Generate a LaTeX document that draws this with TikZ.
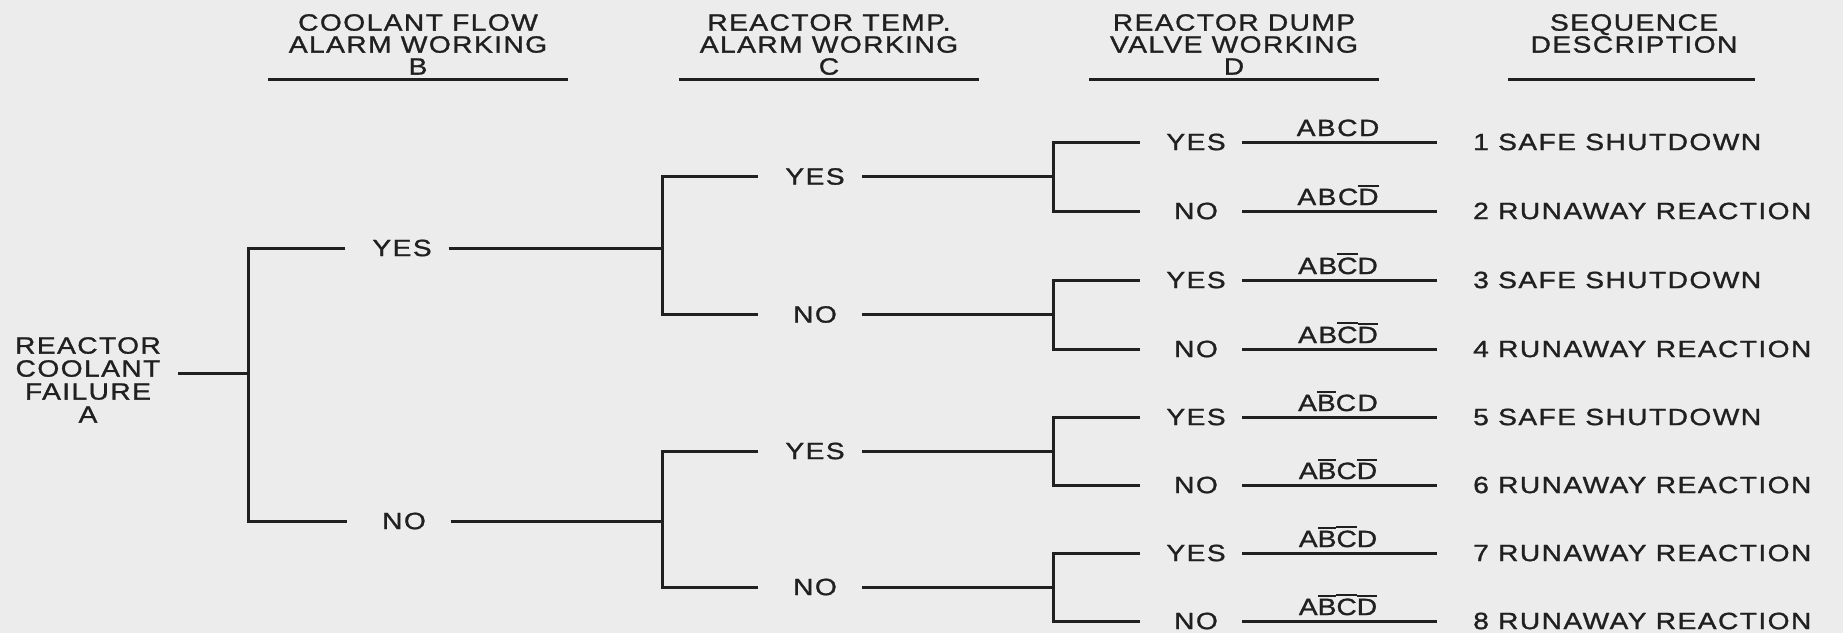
\documentclass[tikz,border=0pt]{standalone}
\usepackage{fontspec}
\usetikzlibrary{calc}
\newfontfamily\wf[FakeStretch=1.2,LetterSpace=6,FakeBold=1.2]{Liberation Sans}
\definecolor{ink}{RGB}{32,32,32}
\definecolor{bg}{RGB}{236,236,236}
\newcommand\tf{\wf\fontsize{23.5}{22}\selectfont}
\newcommand\rf{\wf\fontsize{23.5}{23}\selectfont}
\newcommand\ob[1]{\vbox{\hrule height 2pt\kern 2.2pt\hbox{#1}}}
\newcommand\lb[1]{\hspace*{10pt}#1}
\tikzset{
  ln/.style={draw=ink, line width=3pt},
  tx/.style={font=\tf, text=ink, inner sep=0pt},
  gB/.style={tx, minimum width=103pt},
  gC/.style={tx, minimum width=104pt},
  gD/.style={tx, minimum width=102pt},
  hd/.style={tx, align=center, anchor=north},
  pr/.style={tx, anchor=base},
  sq/.style={tx, anchor=west},
}
\begin{document}
\begin{tikzpicture}[x=1pt,y=-1pt]
\fill[bg] (0,0) rectangle (1843,633);
\useasboundingbox (0,0) rectangle (1843,633);

% headers
\node[hd] (hB) at (418,14) {COOLANT FLOW\\ALARM WORKING\\B};
\node[hd] (hC) at (829,14) {REACTOR TEMP.\\ALARM WORKING\\C};
\node[hd] (hD) at (1234,14) {REACTOR DUMP\\VALVE WORKING\\D};
\node[hd] (hS) at (1634,14) {SEQUENCE\\DESCRIPTION};
\draw[ln] (268,79) -- (568,79);
\draw[ln] (679,79) -- (979,79);
\draw[ln] (1089,79) -- (1379,79);
\draw[ln] (1508,79) -- (1755,79);

% root
\node[tx, align=center, anchor=north, font=\rf] (root) at (88,337) {REACTOR\\COOLANT\\FAILURE\\A};

% junctions
\coordinate (jA) at (248,373);
\coordinate (jc1) at (662,248);
\coordinate (jc2) at (662,521);
\coordinate (jd1) at (1053,176.5);
\coordinate (jd2) at (1053,314.5);
\coordinate (jd3) at (1053,451);
\coordinate (jd4) at (1053,587);

% level B
\node[gB] (bY) at (397,248) {\lb{YES}};
\node[gB] (bN) at (399,521) {\lb{NO}};
% level C
\node[gC] (cY1) at (810,176.5) {\lb{YES}};
\node[gC] (cN1) at (810,314.5) {\lb{NO}};
\node[gC] (cY2) at (810,451) {\lb{YES}};
\node[gC] (cN2) at (810,587) {\lb{NO}};
% level D
\node[gD] (dY1) at (1191,142) {\lb{YES}};
\node[gD] (dN1) at (1191,211) {\lb{NO}};
\node[gD] (dY2) at (1191,280) {\lb{YES}};
\node[gD] (dN2) at (1191,349) {\lb{NO}};
\node[gD] (dY3) at (1191,417) {\lb{YES}};
\node[gD] (dN3) at (1191,485) {\lb{NO}};
\node[gD] (dY4) at (1191,553) {\lb{YES}};
\node[gD] (dN4) at (1191,621) {\lb{NO}};

% sequence descriptions
\node[sq] (s1) at (1473,142) {1 SAFE SHUTDOWN};
\node[sq] (s2) at (1473,211) {2 RUNAWAY REACTION};
\node[sq] (s3) at (1473,280) {3 SAFE SHUTDOWN};
\node[sq] (s4) at (1473,349) {4 RUNAWAY REACTION};
\node[sq] (s5) at (1473,417) {5 SAFE SHUTDOWN};
\node[sq] (s6) at (1473,485) {6 RUNAWAY REACTION};
\node[sq] (s7) at (1473,553) {7 RUNAWAY REACTION};
\node[sq] (s8) at (1473,621) {8 RUNAWAY REACTION};

% boolean labels
\node[pr] (p1) at (1338,136) {ABCD};
\node[pr] (p2) at (1338,205) {ABC\ob{D}};
\node[pr] (p3) at (1338,274) {AB\ob{C}D};
\node[pr] (p4) at (1338,343) {AB\ob{C}\ob{D}};
\node[pr] (p5) at (1338,411) {A\ob{B}CD};
\node[pr] (p6) at (1338,479) {A\ob{B}C\ob{D}};
\node[pr] (p7) at (1338,547) {A\ob{B}\ob{C}D};
\node[pr] (p8) at (1338,615) {A\ob{B}\ob{C}\ob{D}};

% connectors
\draw[ln] ($(root.east|-jA)+(17,0)$) -- (jA);
\draw[ln] (bY.west) -- (bY.west -| jA) -- (bN.west -| jA) -- (bN.west);
\draw[ln] (bY.east) -- (jc1);
\draw[ln] (bN.east) -- (jc2);
\draw[ln] (cY1.west) -- (cY1.west -| jc1) -- (cN1.west -| jc1) -- (cN1.west);
\draw[ln] (cY2.west) -- (cY2.west -| jc2) -- (cN2.west -| jc2) -- (cN2.west);
\draw[ln] (cY1.east) -- (jd1);
\draw[ln] (cN1.east) -- (jd2);
\draw[ln] (cY2.east) -- (jd3);
\draw[ln] (cN2.east) -- (jd4);
\draw[ln] (dY1.west) -- (dY1.west -| jd1) -- (dN1.west -| jd1) -- (dN1.west);
\draw[ln] (dY2.west) -- (dY2.west -| jd2) -- (dN2.west -| jd2) -- (dN2.west);
\draw[ln] (dY3.west) -- (dY3.west -| jd3) -- (dN3.west -| jd3) -- (dN3.west);
\draw[ln] (dY4.west) -- (dY4.west -| jd4) -- (dN4.west -| jd4) -- (dN4.west);
\draw[ln] (dY1.east) -- ([xshift=-36pt]s1.west);
\draw[ln] (dN1.east) -- ([xshift=-36pt]s2.west);
\draw[ln] (dY2.east) -- ([xshift=-36pt]s3.west);
\draw[ln] (dN2.east) -- ([xshift=-36pt]s4.west);
\draw[ln] (dY3.east) -- ([xshift=-36pt]s5.west);
\draw[ln] (dN3.east) -- ([xshift=-36pt]s6.west);
\draw[ln] (dY4.east) -- ([xshift=-36pt]s7.west);
\draw[ln] (dN4.east) -- ([xshift=-36pt]s8.west);
\end{tikzpicture}
\end{document}
